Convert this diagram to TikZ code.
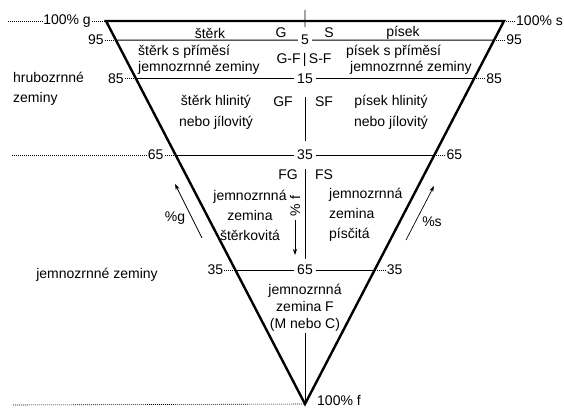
\documentclass[tikz,border=0pt]{standalone}
\usepackage{fontspec}
\setmainfont{Liberation Sans}
\usetikzlibrary{calc,positioning,arrows.meta}

\tikzset{
  txt/.style={font=\fontsize{14}{16}\selectfont, inner sep=1pt},
  wide/.style={font=\fontsize{14}{#1}\selectfont},
  pct/.style={txt, fill=white, inner sep=3pt},
  leader/.style={line width=0.6pt, dash pattern=on 1pt off 1pt},
  side/.style={line width=2.4pt, line join=miter},
  level/.style={line width=0.9pt},
  hint/.style={line width=0.7pt, -{Stealth[length=6pt,width=4pt]}},
}

\begin{document}
\begin{tikzpicture}[x=1pt,y=-1pt]
    \useasboundingbox (0,0) rectangle (564,409);

    % corners: 100% g, 100% s, 100% f
    \coordinate (A) at (106,21);
    \coordinate (B) at (504,21);
    \coordinate (C) at (305,404);

    % points on both sides for 5, 15, 35, 65 % f
    \foreach \p/\t in {5/0.05, 15/0.15, 35/0.35, 65/0.65} {
        \coordinate (L\p) at ($(A)!\t!(C)$);
        \coordinate (R\p) at ($(B)!\t!(C)$);
    }

    % levels with their value in the middle
    \foreach \p in {5,15,35,65} {
        \node[pct] (m\p) at ($(L\p)!0.5!(R\p)$) {\p};
        \draw[level] (L\p) -- (m\p) -- (R\p);
    }

    % values on the sides
    \foreach \p in {5,15,35,65} {
        \pgfmathtruncatemacro\q{100-\p}
        \node[txt, left=11pt of L\p] (gl\p) {\q};
        \node[txt, right=11pt of R\p] (sr\p) {\q};
        \draw[leader] (gl\p) -- (L\p);
        \draw[leader] (sr\p) -- (R\p);
    }

    % corner labels
    \node[txt, left=14pt of A] (g100) {100\% g};
    \node[txt, right=11pt of B] (s100) {100\% s};
    \node[txt, right=11pt of C, yshift=4pt] (f100) {100\% f};
    \coordinate (gEnd) at (8,21);
    \coordinate (fEnd) at (13,405);
    \coordinate (lvlEnd) at (12,0);
    \draw[leader] (gEnd) -- (g100) -- (A);
    \draw[leader] (s100) -- (B);
    \draw[leader] (fEnd) -- (C);
    \draw[leader] (gl35) -- (gl35 -| lvlEnd);

    % center line
    \coordinate (T) at (305,10);
    \draw[level, shorten >=5pt] (T) -- (m5);
    \draw[level, shorten <=10pt, shorten >=6pt] (m15) -- (m35);
    \draw[level, shorten <=6pt, shorten >=3pt] (m35) -- (m65);

    % fields
    \node[txt] (gravel) at (210,33) {štěrk};
    \node[txt] (G) at (281,33) {G};
    \node[txt] (S) at (329,33) {S};
    \node[txt] (sand) at (403,33) {písek};

    \node[txt, align=left, anchor=west] (gravelF) at (137,60) {štěrk s příměsí\\jemnozrnné zeminy};
    \node[txt] (GSF) at (304,60) {G-F\,|\,S-F};
    \node[txt, align=left, anchor=west] (sandF) at (345,60) {písek s příměsí\\\hspace{4pt}jemnozrnné zeminy};

    \node[txt, wide=21, align=center] (gravelC) at (216,112) {štěrk hlinitý\\nebo jílovitý};
    \node[txt] (GF) at (283,102) {GF};
    \node[txt] (SF) at (324,102) {SF};
    \node[txt, wide=21, align=center] (sandC) at (391,112) {písek hlinitý\\nebo jílovitý};

    \node[txt] (FG) at (288,175) {FG};
    \node[txt] (FS) at (324,175) {FS};
    \node[txt, wide=20, align=center] (fineG) at (250,215) {jemnozrnná\\zemina\\štěrkovitá};
    \node[txt, wide=20, align=left, anchor=west] (fineS) at (328,215) {jemnozrnná\\zemina\\písčitá};

    \node[txt, wide=17, align=center] (fines) at (305,308) {jemnozrnná\\zemina F\\(M nebo C)};
    \draw[level] (fines.south) -- (C);

    % soil groups
    \node[txt, wide=20, align=left, anchor=west] (coarse) at (12,89) {hrubozrnné\\zeminy};
    \node[txt] (fine) at (97,275) {jemnozrnné zeminy};

    % directions of reading
    \coordinate (gTail) at (202,238);
    \coordinate (gHead) at (175,184);
    \draw[hint] (gTail) -- (gHead);
    \node[txt] (pg) at (175,218) {\%g};

    \coordinate (sTail) at (406,240);
    \coordinate (sHead) at (434,186);
    \draw[hint] (sTail) -- (sHead);
    \node[txt] (ps) at (432,222) {\%s};

    \node[txt, rotate=90] (pf) at (295,206) {\% f};
    \coordinate (fHead) at (295,255);
    \draw[hint, shorten <=3pt] (pf.west) -- (fHead);

    % triangle
    \draw[side] (A) -- (B) -- (C) -- cycle;
\end{tikzpicture}
\end{document}
